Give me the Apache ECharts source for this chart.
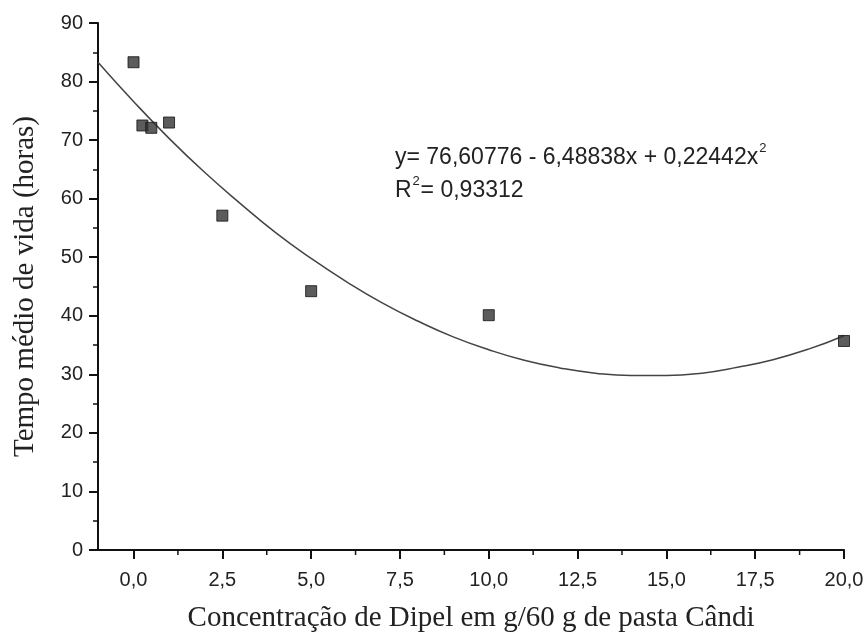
<!DOCTYPE html>
<html>
<head>
<meta charset="utf-8">
<script src="https://cdn.jsdelivr.net/npm/echarts@6/dist/echarts.min.js"></script>
<style>html,body{margin:0;padding:0;background:#fff}#c{width:868px;height:633px}</style>
</head>
<body>
<div id="c"></div>
<script>
// Observed data points (concentration, mean lifetime in hours)
const concentrations = [0, 0.25, 0.5, 1, 2.5, 5, 10, 20];
const lifetimes = [83.3, 72.5, 72.1, 73.0, 57.1, 44.2, 40.1, 35.7];
// Fitted curve
const curveX = [-1, 0, 1, 2, 3, 4, 5, 6, 7, 8, 9, 10, 11, 12, 13, 14, 15, 16, 17, 18, 19, 20];
const curveY = [83.3, 76.6, 70.3, 64.5, 59.2, 54.2, 49.8, 45.8, 42.2, 39.1, 36.4, 34.2, 32.4, 31.1, 30.2, 29.8, 29.8, 30.2, 31.2, 32.5, 34.3, 36.6];
const xTickValues = [0, 2.5, 5, 7.5, 10, 12.5, 15, 17.5, 20];
const xTicks = ['0,0', '2,5', '5,0', '7,5', '10,0', '12,5', '15,0', '17,5', '20,0'];
const xMinorValues = [1.25, 3.75, 6.25, 8.75, 11.25, 13.75, 16.25, 18.75];
const yTicks = ['0', '10', '20', '30', '40', '50', '60', '70', '80', '90'];
const xTitle = 'Concentração de Dipel em g/60 g de pasta Cândi';
const yTitle = 'Tempo médio de vida (horas)';
const eqLine = 'y= 76,60776 - 6,48838x + 0,22442x';
const r2Value = '= 0,93312';

const chart = echarts.init(document.getElementById('c'));
const sans = 'Liberation Sans, Arial, sans-serif';
const serif = 'Liberation Serif, Times New Roman, serif';
chart.setOption({
  animation: false,
  backgroundColor: '#fff',
  grid: { left: 98, right: 24, top: 23, bottom: 83, containLabel: false, outerBoundsMode: 'none' },
  xAxis: {
    type: 'value', min: -1, max: 20,
    name: xTitle, nameLocation: 'middle', nameGap: 54,
    nameTextStyle: { fontFamily: serif, fontSize: 29, color: '#222' },
    axisLine: { show: true, onZero: false, lineStyle: { color: '#111', width: 2 } },
    axisTick: { show: true, inside: false, length: 9, lineStyle: { color: '#111', width: 2 }, customValues: xTickValues },
    axisLabel: { fontFamily: sans, fontSize: 20, color: '#222', margin: 20, customValues: xTickValues,
      formatter: v => xTicks[Math.round(v / 2.5)] },
    splitLine: { show: false }
  },
  yAxis: {
    type: 'value', min: 0, max: 90, interval: 10,
    name: yTitle, nameLocation: 'middle', nameGap: 58,
    nameTextStyle: { fontFamily: serif, fontSize: 29, color: '#222' },
    axisLine: { show: true, onZero: false, lineStyle: { color: '#111', width: 2 } },
    axisTick: { show: true, length: 9, lineStyle: { color: '#111', width: 2 } },
    minorTick: { show: true, splitNumber: 2, length: 5, lineStyle: { color: '#111', width: 1.5 } },
    axisLabel: { fontFamily: sans, fontSize: 20, color: '#222', margin: 15,
      formatter: v => yTicks[Math.round(v / 10)] },
    splitLine: { show: false }
  },
  series: [
    {
      type: 'line', smooth: true, showSymbol: false,
      data: curveX.map((x, i) => [x, curveY[i]]),
      lineStyle: { color: '#444', width: 1.5 }, z: 2
    },
    {
      type: 'scatter', symbol: 'rect', symbolSize: 11,
      data: concentrations.map((x, i) => [x, lifetimes[i]]),
      itemStyle: { color: '#333', borderColor: '#111', borderWidth: 1 }, z: 3
    }
  ]
});
const ctx = document.createElement('canvas').getContext('2d');
const eqFont = '23px ' + sans;
ctx.font = eqFont;
const w1 = ctx.measureText(eqLine).width;
const wR = ctx.measureText('R').width;
const ex = 395;
const extra = xMinorValues.map(v => {
  const p = chart.convertToPixel({ gridIndex: 0 }, [v, 0]);
  return { type: 'line', shape: { x1: p[0], y1: p[1], x2: p[0], y2: p[1] + 5 }, style: { stroke: '#111', lineWidth: 1.5 } };
});
chart.setOption({
  graphic: [
    { type: 'text', left: ex, top: 146, style: { text: eqLine, font: eqFont, fill: '#222' } },
    { type: 'text', left: ex + w1 + 1, top: 142, style: { text: '2', font: '13px ' + sans, fill: '#222' } },
    { type: 'text', left: ex, top: 179, style: { text: 'R', font: eqFont, fill: '#222' } },
    { type: 'text', left: ex + wR + 1, top: 175, style: { text: '2', font: '13px ' + sans, fill: '#222' } },
    { type: 'text', left: ex + wR + 9, top: 179, style: { text: r2Value, font: eqFont, fill: '#222' } }
  ].concat(extra)
});
</script>
</body>
</html>
